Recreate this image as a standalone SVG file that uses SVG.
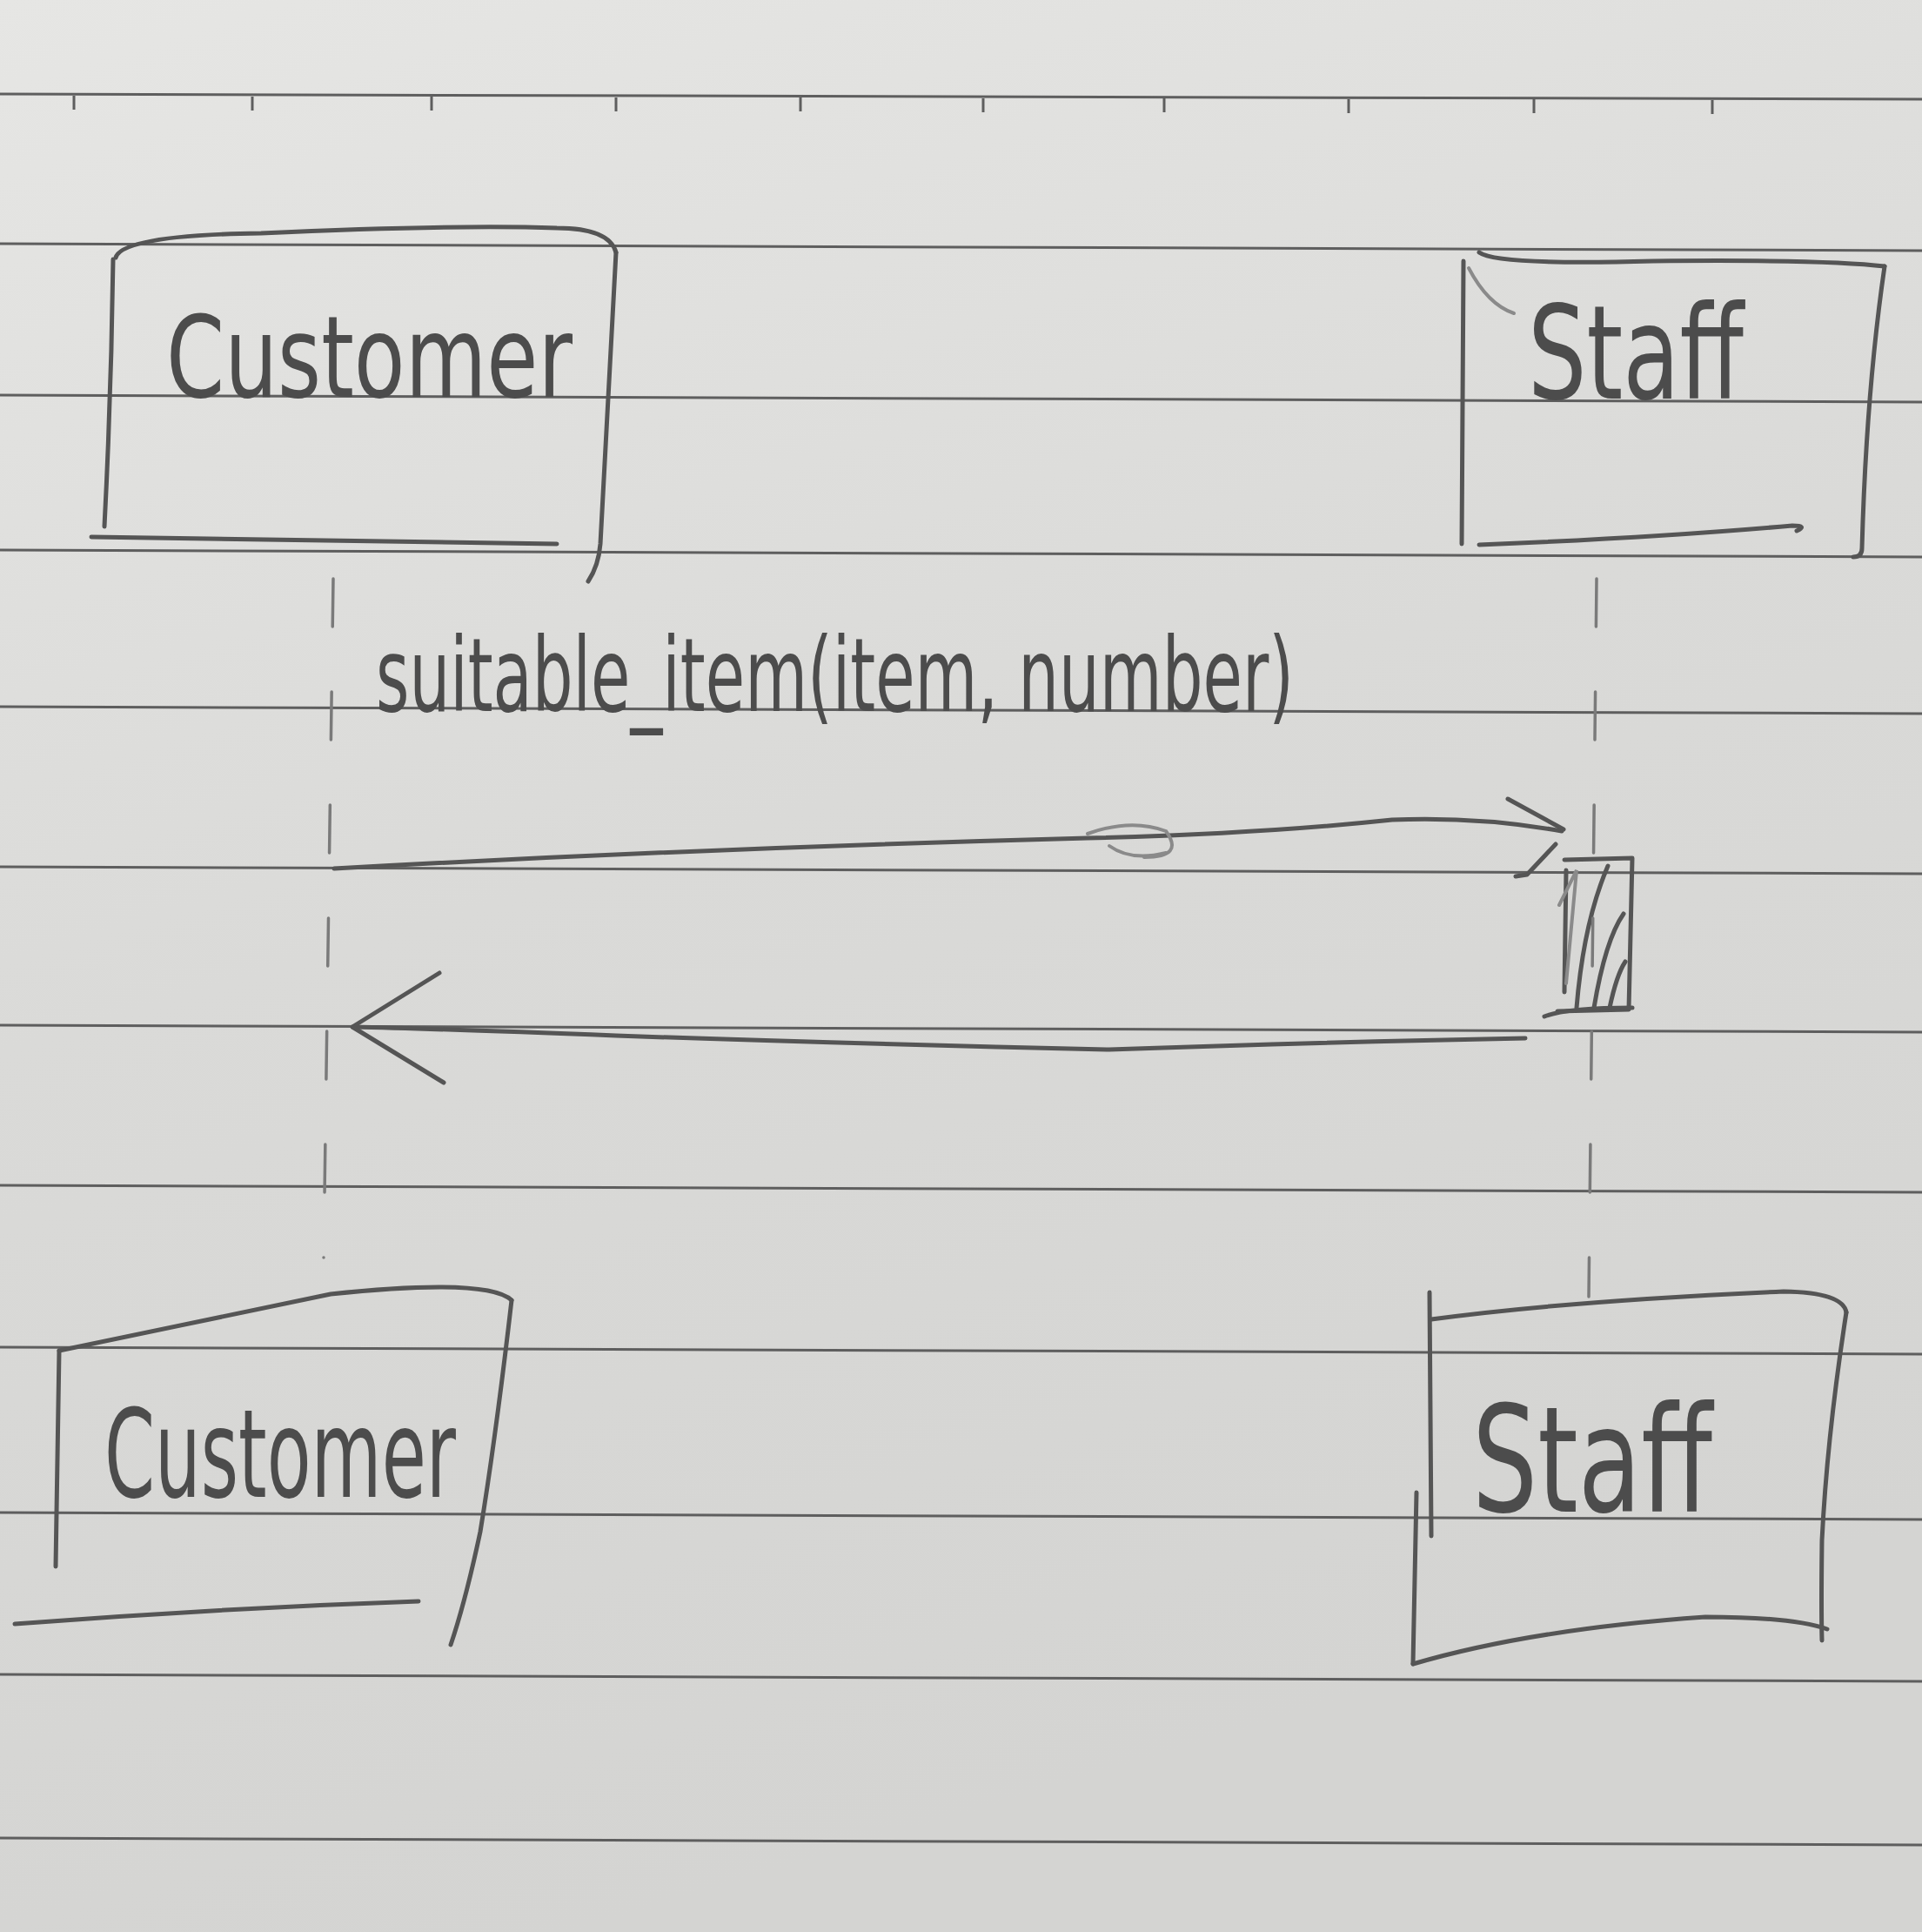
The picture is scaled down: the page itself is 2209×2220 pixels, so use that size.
<svg xmlns="http://www.w3.org/2000/svg" width="2209" height="2220" viewBox="0 0 2209 2220">
<defs>
<linearGradient id="paper" x1="0" y1="0" x2="0.3" y2="1">
<stop offset="0" stop-color="#e6e6e4"/>
<stop offset="0.5" stop-color="#dadad8"/>
<stop offset="1" stop-color="#d4d4d2"/>
</linearGradient>
<style>
.rule{stroke:#5e5e5e;stroke-width:3;fill:none}
.pen{stroke:#555;stroke-width:5;fill:none;stroke-linecap:round;stroke-linejoin:round}
.pen-light{stroke:#8a8a8a;stroke-width:4;fill:none;stroke-linecap:round}
.life{stroke:#7a7a7a;stroke-width:3.5;fill:none;stroke-dasharray:55 75;stroke-linecap:round}
.hand{font-family:"DejaVu Sans","Liberation Sans",sans-serif;fill:#4c4c4c}
</style>
</defs>
<rect width="2209" height="2220" fill="url(#paper)"/>
<g id="paper-lines">
<path class="rule" d="M0,108 L2209,114" stroke-width="4"/>
<path class="rule" d="M85,110 v16 M290,111 v16 M496,111 v16 M708,112 v16 M920,112 v16 M1130,113 v16 M1338,113 v16 M1550,114 v16 M1763,114 v16 M1968,115 v16"/>
<path class="rule" d="M0,280 L2209,288"/>
<path class="rule" d="M0,454 L2209,462"/>
<path class="rule" d="M0,632 L2209,640"/>
<path class="rule" d="M0,812 L2209,820"/>
<path class="rule" d="M0,996 L2209,1004"/>
<path class="rule" d="M0,1178 L2209,1186"/>
<path class="rule" d="M0,1362 L2209,1370"/>
<path class="rule" d="M0,1548 L2209,1556"/>
<path class="rule" d="M0,1738 L2209,1746"/>
<path class="rule" d="M0,1924 L2209,1932"/>
<path class="rule" d="M0,2112 L2209,2120"/>
</g>
<g id="node-customer-top">
<path class="pen" d="M130,298 Q128,450 120,605"/>
<path class="pen" d="M133,296 Q140,270 300,268 Q520,258 640,262 Q700,262 708,290"/>
<path class="pen" d="M708,290 Q700,450 690,625 Q688,650 676,668"/>
<path class="pen" d="M105,617 Q400,622 640,625"/>
<text class="hand" x="191" y="456" font-size="130" textLength="467" lengthAdjust="spacingAndGlyphs">Customer</text>
</g>
<g id="node-staff-top">
<path class="pen" d="M1682,300 L1680,625"/>
<path class="pen" d="M1700,290 Q1720,305 1900,300 Q2100,298 2166,306"/>
<path class="pen-light" d="M1688,308 Q1710,350 1740,360"/>
<path class="pen" d="M2166,306 Q2145,450 2140,630 Q2140,640 2130,640"/>
<path class="pen" d="M1700,626 Q1900,618 2060,604 Q2078,604 2065,610"/>
<text class="hand" x="1756" y="458" font-size="150" textLength="248" lengthAdjust="spacingAndGlyphs">Staff</text>
</g>
<g id="node-customer-bottom">
<path class="pen" d="M68,1552 L64,1800"/>
<path class="pen" d="M68,1552 Q220,1520 380,1487 Q560,1468 588,1494"/>
<path class="pen" d="M588,1494 Q570,1650 552,1760 Q535,1840 518,1890"/>
<path class="pen" d="M17,1866 Q250,1848 481,1840"/>
<text class="hand" x="120" y="1720" font-size="140" textLength="404" lengthAdjust="spacingAndGlyphs">Customer</text>
</g>
<g id="node-staff-bottom">
<path class="pen" d="M1643,1485 L1645,1765"/>
<path class="pen" d="M1628,1715 L1624,1912"/>
<path class="pen" d="M1645,1516 Q1800,1495 2050,1484 Q2118,1485 2122,1508"/>
<path class="pen" d="M2122,1508 Q2100,1650 2094,1770 Q2093,1850 2094,1885"/>
<path class="pen" d="M1624,1912 Q1760,1872 1960,1858 Q2060,1858 2100,1872"/>
<text class="hand" x="1692" y="1737" font-size="170" textLength="276" lengthAdjust="spacingAndGlyphs">Staff</text>
</g>
<g id="activation-staff">
<path class="pen" d="M1798,988 L1876,986 L1872,1160 L1790,1162"/>
<path class="pen" d="M1800,1000 L1798,1140"/>
<path class="pen" d="M1775,1168 Q1800,1158 1876,1158"/>
<path class="pen-light" d="M1792,1040 L1812,1000 L1800,1130"/>
<path class="pen" d="M1812,1158 Q1820,1060 1848,995"/>
<path class="pen" d="M1832,1158 Q1845,1080 1866,1050"/>
<path class="pen" d="M1850,1158 Q1858,1120 1868,1105"/>
</g>
<g id="connectors">
<path class="life" d="M383,665 L372,1445"/>
<path class="life" d="M1835,665 L1826,1490"/>
<path id="msg-call" class="pen" d="M384,998 Q800,975 1250,963 Q1450,958 1600,942 Q1700,938 1795,955"/>
<path class="pen" d="M1733,918 L1797,953"/>
<path class="pen" d="M1788,970 L1755,1005 L1742,1007"/>
<path class="pen-light" d="M1250,958 Q1300,940 1340,955 Q1362,985 1315,985"/>
<path class="pen-light" d="M1275,972 Q1300,990 1340,980"/>
<path id="msg-return" class="pen" d="M1753,1193 Q1500,1198 1275,1206 Q1000,1200 708,1190 Q500,1182 405,1180"/>
<path class="pen" d="M505,1118 L405,1180 L510,1244"/>
<text class="hand" x="432" y="817" font-size="118" textLength="1055" lengthAdjust="spacingAndGlyphs">suitable_item(item, number)</text>
</g>
</svg>
